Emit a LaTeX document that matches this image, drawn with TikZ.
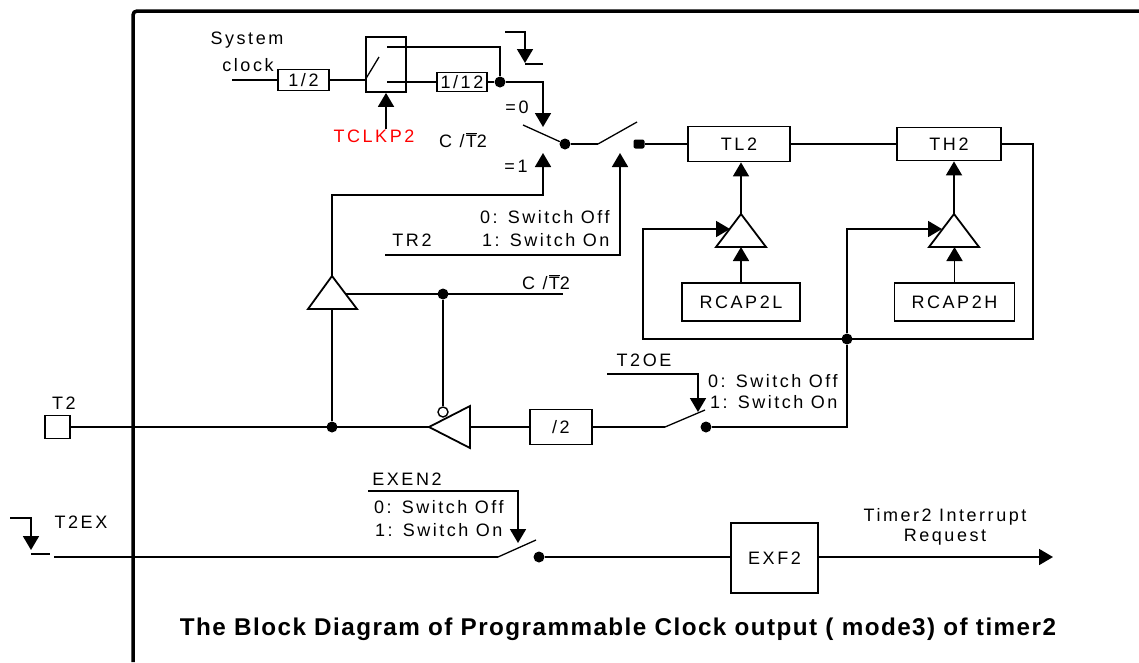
\documentclass[tikz,border=0pt]{standalone}
\usepackage{fontspec}
\usepackage{graphicx}
\setmainfont{Liberation Sans}[LetterSpace=14]
\newfontfamily\titlefont{Liberation Sans}[LetterSpace=6]
\usetikzlibrary{arrows.meta}
\newcommand\lbl{\fontsize{18pt}{21pt}\selectfont}
\newcommand\ctbar{C /\kern1pt$\overline{\hbox{T}}$2}
\tikzset{
  wire/.style={line width=1.8pt, line join=miter},
  arr/.style={wire, -{Triangle[width=16pt,length=14pt]}},
  blk/.style={draw, line width=1.8pt, rectangle, inner sep=0pt, font=\lbl},
  dotn/.style={circle, fill, inner sep=0pt, minimum size=11pt},
  sqdot/.style={rectangle, rounded corners=2pt, fill, inner sep=0pt, minimum width=11pt, minimum height=9pt},
  arm/.style={line width=1.3pt},
  lab/.style={inner sep=0pt, font=\lbl},
}
\begin{document}
\begin{tikzpicture}[x=1pt,y=-1pt]
\useasboundingbox (0,0) rectangle (1139,662);
% frame
\draw[line width=3.5pt, rounded corners=4pt] (133,662) -- (133,11) -- (1139,11);

% boxes
\node[blk, minimum width=51pt, minimum height=21pt] (half) at (303.5,80) {1/2};
\node[blk, minimum width=40pt, minimum height=55pt] (swbox) at (386,64.5) {};
\node[blk, minimum width=50pt, minimum height=19pt] (twelve) at (462,82) {1/12};
\node[blk, minimum width=102pt, minimum height=35pt] (TL2) at (739,144) {TL2};
\node[blk, minimum width=104pt, minimum height=33pt] (TH2) at (949,144) {TH2};
\node[blk, minimum width=118pt, minimum height=38pt] (RL) at (741,302) {RCAP2L};
\node[blk, minimum width=120pt, minimum height=38pt] (RH) at (954.5,302) {RCAP2H};
\node[blk, minimum width=62pt, minimum height=35pt] (div) at (561,427) {/2};
\node[blk, minimum width=87pt, minimum height=70pt] (EXF) at (774.5,558) {EXF2};
\node[blk, minimum width=25pt, minimum height=23pt] (T2box) at (57.5,427) {};

% system clock path
\coordinate (sys) at (232,80);
\draw[wire] (sys) -- (half.west);
\coordinate (swin) at (swbox.west |- half.east);
\draw[wire] (half.east) -- (swin);
\coordinate (swtip) at (379,57);
\draw[arm] (swin) -- (swtip);
\coordinate (ctop) at (387,47);
\coordinate (cbot) at (387,82);
\node[dotn] (j1) at (500,82) {};
\draw[wire] (ctop) -- (j1 |- ctop) -- (j1);
\draw[wire] (cbot) -- (twelve.west);
\draw[wire] (twelve.east) -- (j1);
\coordinate (a0) at (543,127);
\draw[arr] (j1) -- (j1 -| a0) -- (a0);

% output symbol top
\coordinate (g1) at (505,32);
\coordinate (g2) at (525,63);
\coordinate (g2b) at (525,64);
\coordinate (g3) at (543,64);
\draw[arr] (g1) -- (g1 -| g2) -- (g2);
\draw[wire] (g2b) -- (g3);

% TCLKP2
\node[lab, text=red] (tclk) at (374,136) {TCLKP2};
\coordinate (tclkb) at (386,129);
\draw[arr] (tclkb) -- (swbox.south);

% C/T2 switch and TR2 switch
\coordinate (s1a) at (523,125);
\node[dotn] (c1) at (565,144) {};
\draw[arm] (s1a) -- (c1);
\coordinate (s2p) at (598,144);
\coordinate (s2a) at (637,122);
\draw[wire] (c1) -- (s2p);
\draw[arm] (s2p) -- (s2a);
\node[sqdot] (c2) at (639,144) {};
\draw[wire] (c2) -- (TL2.west);

% left triangle (counter input)
\coordinate (tA) at (332,276);
\coordinate (tLl) at (308,309);
\coordinate (tLr) at (357,309);
\draw[wire] (tLl) -- (tA) -- (tLr) -- cycle;
\coordinate (a1) at (543,153);
\coordinate (a1h) at (332,195);
\draw[arr] (tA) -- (a1h) -- (a1h -| a1) -- (a1);

% TR2
\coordinate (tr0) at (385,255);
\coordinate (a2) at (620,153);
\draw[arr] (tr0) -- (a2 |- tr0) -- (a2);

% TL2 -> TH2
\draw[wire] (TL2.east) -- (TH2.west);

% reload triangles
\coordinate (t1apex) at (741,214);
\coordinate (t1l) at (716,247);
\coordinate (t1r) at (766,247);
\draw[wire] (t1l) -- (t1apex) -- (t1r) -- cycle;
\draw[arr] (t1apex) -- (TL2.south -| t1apex);
\draw[arr] (RL.north) -- (RL.north |- t1l);
\coordinate (t2apex) at (954,214);
\coordinate (t2l) at (929,247);
\coordinate (t2r) at (979,247);
\draw[wire] (t2l) -- (t2apex) -- (t2r) -- cycle;
\draw[arr] (t2apex) -- (TH2.south -| t2apex);
\draw[arr] (RH.north) -- (RH.north |- t2l);

% overflow feedback
\coordinate (rb) at (1033,339);
\coordinate (lb) at (643,339);
\coordinate (tri1in) at (730,229);
\draw[arr] (TH2.east) -- (TH2.east -| rb) -- (rb) -- (lb) -- (lb |- tri1in) -- (tri1in);
\node[dotn] (j2) at (847,339) {};
\coordinate (tri2in) at (942,229);
\draw[arr] (j2) -- (j2 |- tri2in) -- (tri2in);

% C/T2 line
\coordinate (tLout) at (346,294);
\node[dotn] (j3) at (443,294) {};
\coordinate (ct2end) at (563,294);
\draw[wire] (tLout) -- (ct2end);

% T2 pin line
\node[dotn] (j4) at (332,427) {};
\draw[wire] (j4) -- (tA |- tLl);
\coordinate (invtip) at (429,427);
\draw[wire] (T2box.east) -- (invtip);
\coordinate (invt) at (470,406);
\coordinate (invb) at (470,448);
\coordinate (invm) at (470,427);
\draw[wire] (invtip) -- (invt) -- (invb) -- cycle;
\node[circle, draw, line width=1.4pt, inner sep=0pt, minimum size=10pt, fill=white] (bub) at (443,412) {};
\draw[wire] (j3) -- (bub.north);
\draw[wire] (invm) -- (div.west);

% T2OE switch
\coordinate (s3p) at (665,427);
\coordinate (s3a) at (705,410);
\node[dotn] (c3) at (706,427) {};
\draw[wire] (div.east) -- (s3p);
\draw[arm] (s3p) -- (s3a);
\draw[wire] (c3) -- (c3 -| j2) -- (j2);
\coordinate (t2oe0) at (607,374);
\coordinate (a3) at (698,412);
\draw[arr] (t2oe0) -- (a3 |- t2oe0) -- (a3);

% T2EX path
\coordinate (x1) at (10,518);
\coordinate (x2) at (31,550);
\coordinate (x2b) at (31,554);
\coordinate (x2c) at (50,554);
\draw[arr] (x1) -- (x1 -| x2) -- (x2);
\draw[wire] (x2b) -- (x2c);
\coordinate (x3) at (54,557);
\coordinate (s4p) at (498,557);
\coordinate (s4a) at (536,540);
\node[dotn] (c4) at (539,557) {};
\draw[wire] (x3) -- (s4p);
\draw[arm] (s4p) -- (s4a);
\draw[wire] (c4) -- (EXF.west |- c4);
\coordinate (ex0) at (368,491);
\coordinate (a4) at (518,543);
\draw[arr] (ex0) -- (a4 |- ex0) -- (a4);
\coordinate (irq) at (1053,557);
\draw[arr] (EXF.east |- irq) -- (irq);

% labels
\node[lab] (sys1) at (247,40) {System};
\node[lab] (sys2) at (248,65) {clock};
\node[lab] (eq0) at (517,107) {=0};
\node[lab] (eq1) at (516,166) {=1};
\node[lab] (ct1) at (463,140) {\ctbar};
\node[lab] (ct2) at (546,282) {\ctbar};
\node[lab, anchor=west] (troff) at (480,217) {0: Switch Off};
\node[lab, anchor=west] (tron) at (482,240) {1: Switch On};
\node[lab] (tr2) at (412,240) {TR2};
\node[lab] (t2oe) at (644,360) {T2OE};
\node[lab, anchor=west] (oeoff) at (708,381) {0: Switch Off};
\node[lab, anchor=west] (oeon) at (710,402) {1: Switch On};
\node[lab] (t2) at (64,403) {T2};
\node[lab] (t2ex) at (81,522) {T2EX};
\node[lab] (exen2) at (407,479) {EXEN2};
\node[lab, anchor=west] (exoff) at (374,507) {0: Switch Off};
\node[lab, anchor=west] (exon) at (375,530) {1: Switch On};
\node[lab] (irq1) at (945,517) {Timer2 Interrupt};
\node[lab] (irq2) at (945,537) {Request};
\node[inner sep=0pt] (title) at (618,629) {\resizebox{876pt}{!}{\titlefont\bfseries The Block Diagram of Programmable Clock output ( mode3) of timer2}};
\end{tikzpicture}
\end{document}
